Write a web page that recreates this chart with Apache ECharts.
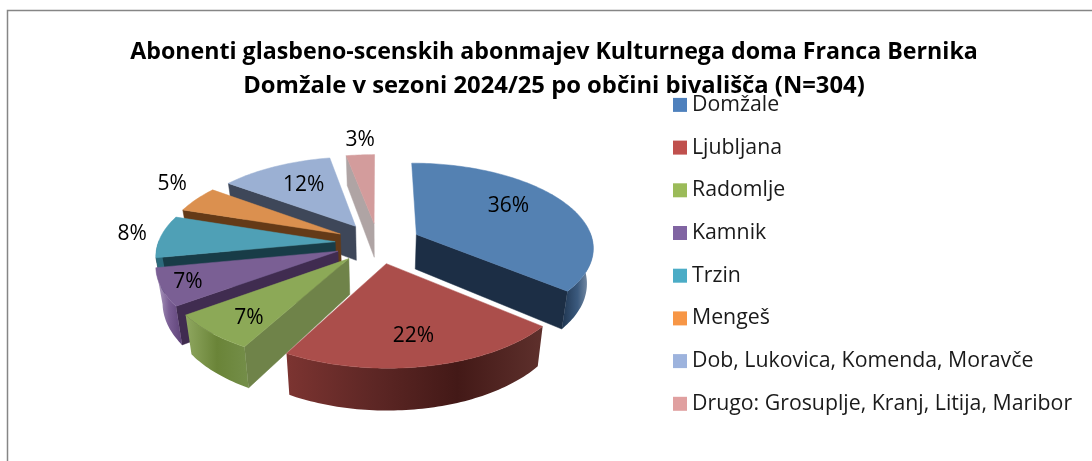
<!DOCTYPE html>
<html><head><meta charset="utf-8">
<style>html,body{margin:0;padding:0;background:#fff}#c{width:1092px;height:461px}</style>
<script src="https://cdn.jsdelivr.net/npm/echarts@6/dist/echarts.min.js"></script>
</head><body><div id="c"></div>
<script>
const categories = ['Domžale','Ljubljana','Radomlje','Kamnik','Trzin','Mengeš','Dob, Lukovica, Komenda, Moravče','Drugo: Grosuplje, Kranj, Litija, Maribor'];
const shares = [36,22,7,7,8,5,12,3];
const titleLines = ['Abonenti glasbeno-scenskih abonmajev Kulturnega doma Franca Bernika','Domžale v sezoni 2024/25 po občini bivališča (N=304)'];

const legendColors = ['#4F81BD','#C0504D','#9BBB59','#8064A2','#4BACC6','#F79646','#9DB3DD','#E0A0A0'];
const topColors = ['#5481B2','#AB4E4B','#8CA957','#7A5F94','#4FA0B6','#DB904F','#9BB0D3','#D39C9C'];
const wallColors = ['#1C2E45','#4A1D1B','#6F8349','#402C50','#183C47','#643A17','#3E4759','#AFA4A4'];
const rimStops = [
  ['#1F3550','#3B5A7E','#93A3B6'],
  ['#7C3431','#5E2725','#431917','#5E302C'],
  ['#8FA760','#6A8438','#748E49'],
  ['#B5A6C6','#7A5E94','#5E4378'],
  ['#2C6A7C','#2C6A7C','#2C6A7C'],
  ['#8F5A24','#8F5A24','#8F5A24'],
  ['#4A5570','#4A5570','#4A5570'],
  ['#A08888','#A08888','#A08888']
];
// label offset from each slice's own apex, in px
const labelOffsets = [[92,-28],[27,72],[-100,59],[-150,31],[-203,-8],[-168,-50],[-52,-41],[-14,-83]];

const C = {cx:378, cy:243, R:177, k:0.472, p:0.14, explode:43, depth:35, squeeze:0.03, vx:380};
const total = shares.reduce((a,b)=>a+b,0);
const starts = []; let acc=0;
shares.forEach(v=>{starts.push(acc/total*Math.PI*2); acc+=v;});

function proj(X,Y,z){
  const s = 1/(1+C.p*Y/C.R);
  let x = C.cx + X*s, y = C.cy - C.k*Y*s;
  if(z){ x = C.vx + (x-C.vx)*(1-C.squeeze); y += C.depth*s; }
  return [x,y];
}
function apex(a1,a2){ const m=(a1+a2)/2; return [C.explode*Math.sin(m), C.explode*Math.cos(m)]; }
function rimPt(ap,a){ return [ap[0]+C.R*Math.sin(a), ap[1]+C.R*Math.cos(a)]; }
function arcPts(ap,a1,a2,z){ const n=Math.max(2,Math.ceil((a2-a1)/0.02)), r=[];
  for(let i=0;i<=n;i++){ const p=rimPt(ap,a1+(a2-a1)*i/n); r.push(proj(p[0],p[1],z)); } return r; }
function quad(pts,fill){ return {type:'polygon',shape:{points:pts},style:{fill:fill,stroke:fill,lineWidth:0.5}}; }

function sliceRender(i){
  return function(params,api){
    const share = api.value(0);
    const a1 = starts[i], a2 = a1 + share/total*Math.PI*2;
    const ap = apex(a1,a2), kids = [];
    const wall = a=>{ const e=rimPt(ap,a);
      return quad([proj(ap[0],ap[1],0),proj(e[0],e[1],0),proj(e[0],e[1],1),proj(ap[0],ap[1],1)],wallColors[i]); };
    // start face normal (-cos,+sin), end face normal (cos,-sin): visible when it points at the viewer
    if(Math.sin(a1) < -0.01) kids.push(wall(a1));
    if(Math.sin(a2) > 0.01) kids.push(wall(a2));
    const f1 = Math.max(a1,Math.PI/2-0.02), f2 = Math.min(a2,Math.PI*1.5+0.02);
    if(f2>f1){
      const top = arcPts(ap,f1,f2,0), bot = arcPts(ap,f1,f2,1).reverse();
      kids.push({type:'polygon',shape:{points:top.concat(bot)},style:{
        fill:new echarts.graphic.LinearGradient(0,0,1,0,rimStops[i].map((c,j)=>({offset:j/(rimStops[i].length-1),color:c})))}});
    }
    kids.push(quad([proj(ap[0],ap[1],0)].concat(arcPts(ap,a1,a2,0)),topColors[i]));
    const c = proj(ap[0],ap[1],0), o = labelOffsets[i];
    kids.push({type:'text',z2:100,style:{text:Math.round(share/total*100)+'%',x:c[0]+o[0],y:c[1]+o[1],
      align:'center',verticalAlign:'middle',fill:'#000',font:'21px "Open Sans"'}});
    return {type:'group',children:kids};
  };
}
const backness = shares.map((v,i)=>Math.cos(starts[i]+v/total*Math.PI));
const rank = backness.map((b,i)=>backness.filter(x=>x>b).length);

const chart = echarts.init(document.getElementById('c'),null,{renderer:'canvas'});
chart.setOption({
  animation:false,
  backgroundColor:'#fff',
  color:legendColors,
  title:{text:'{a|'+titleLines[0]+'}\n{b|'+titleLines[1]+'}',left:549,top:30,textAlign:'center',
    textStyle:{rich:{
      a:{fontFamily:'Open Sans',fontWeight:'bold',fontSize:23.2,lineHeight:34,color:'#000'},
      b:{fontFamily:'Open Sans',fontWeight:'bold',fontSize:23.8,lineHeight:34,color:'#000'}}}},
  legend:{orient:'vertical',left:668,top:86,itemWidth:14,itemHeight:14,itemGap:14.9,
    itemStyle:{borderWidth:0},icon:'rect',data:categories,selectedMode:false,
    textStyle:{fontFamily:'Open Sans',fontSize:21.3,color:'#1a1a1a',padding:[-5,0,0,0],lineHeight:32.8}},
  graphic:[{type:'polyline',shape:{points:[[7.5,461],[7.5,10.5],[1092,10.5]]},style:{stroke:'#868686',lineWidth:1.5,fill:null}}],
  series:categories.map((name,i)=>({
    type:'custom',name:name,coordinateSystem:'none',z:2+rank[i],
    renderItem:sliceRender(i),data:[[shares[i]]],
    itemStyle:{color:legendColors[i]}
  }))
});
</script></body></html>
